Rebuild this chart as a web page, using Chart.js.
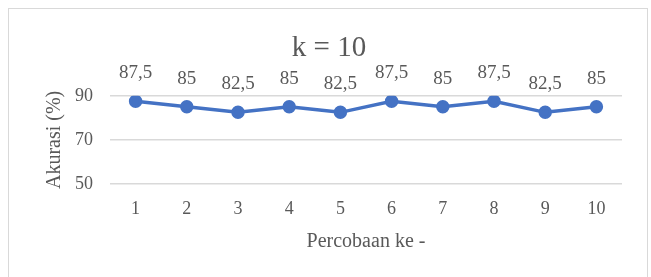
<!DOCTYPE html>
<html>
<head>
<meta charset="utf-8">
<script src="https://cdn.jsdelivr.net/npm/chart.js@4"></script>
<style>
    html, body { margin: 0; padding: 0; background: #fff; }
    #wrap { position: relative; width: 651px; height: 277px; overflow: hidden; }
    #frame {
        position: absolute; left: 8px; top: 8px; width: 638px; height: 300px;
        border: 1px solid #d9d9d9; pointer-events: none;
    }
</style>
</head>
<body>
<div id="wrap">
    <canvas id="chart" width="651" height="277"></canvas>
    <div id="frame"></div>
</div>
<script>
const CATEGORIES = ['1', '2', '3', '4', '5', '6', '7', '8', '9', '10'];
const ACCURACY = [87.5, 85, 82.5, 85, 82.5, 87.5, 85, 87.5, 82.5, 85];
const Y_TICKS = [50, 70, 90];

const TEXT_COLOR = '#595959';
const LINE_COLOR = '#4472C4';
const GRID_COLOR = '#d9d9d9';
const SERIF = '"Liberation Serif", "Times New Roman", serif';

// draws the value above each point, comma as decimal separator
const pointLabels = {
    id: 'pointLabels',
    afterDatasetsDraw(chart) {
        const ctx = chart.ctx;
        const meta = chart.getDatasetMeta(0);
        ctx.save();
        ctx.font = `19px ${SERIF}`;
        ctx.fillStyle = TEXT_COLOR;
        ctx.textAlign = 'center';
        ctx.textBaseline = 'middle';
        meta.data.forEach((pt, i) => {
            const text = String(ACCURACY[i]).replace('.', ',');
            ctx.fillText(text, pt.x, pt.y - 28);
        });
        ctx.restore();
    },
};

new Chart(document.getElementById('chart'), {
    type: 'line',
    data: {
        labels: CATEGORIES,
        datasets: [{
            data: ACCURACY,
            borderColor: LINE_COLOR,
            backgroundColor: LINE_COLOR,
            borderWidth: 3.5,
            pointRadius: 5,
            pointHoverRadius: 5,
            tension: 0,
            fill: false,
        }],
    },
    options: {
        responsive: false,
        animation: false,
        layout: { padding: { left: 36, right: 29, top: 0, bottom: 0 } },
        plugins: {
            legend: { display: false },
            tooltip: { enabled: false },
            title: {
                display: true,
                text: 'k = 10',
                color: TEXT_COLOR,
                font: { family: SERIF, size: 29, weight: 'normal' },
                padding: { top: 31, bottom: 30 },
            },
        },
        scales: {
            x: {
                offset: true,
                grid: { display: false, drawTicks: false },
                border: { display: false },
                ticks: {
                    color: TEXT_COLOR,
                    padding: 14,
                    font: { family: SERIF, size: 18 },
                },
                title: {
                    display: true,
                    text: 'Percobaan ke -',
                    color: TEXT_COLOR,
                    font: { family: SERIF, size: 20 },
                    padding: { top: 0, bottom: 23 },
                },
                afterFit(scale) { scale.height = 93; },
            },
            y: {
                min: 50,
                max: 90,
                afterBuildTicks(scale) {
                    scale.ticks = Y_TICKS.map(v => ({ value: v }));
                },
                grid: { color: GRID_COLOR, lineWidth: 1.5, drawTicks: false },
                border: { display: false },
                ticks: {
                    color: TEXT_COLOR,
                    padding: 17,
                    font: { family: SERIF, size: 18 },
                },
                title: {
                    display: true,
                    text: 'Akurasi (%)',
                    color: TEXT_COLOR,
                    font: { family: SERIF, size: 20 },
                    padding: { top: 7, bottom: 0 },
                },
                afterFit(scale) { scale.width = 74; },
            },
        },
    },
    plugins: [pointLabels],
});
</script>
</body>
</html>
